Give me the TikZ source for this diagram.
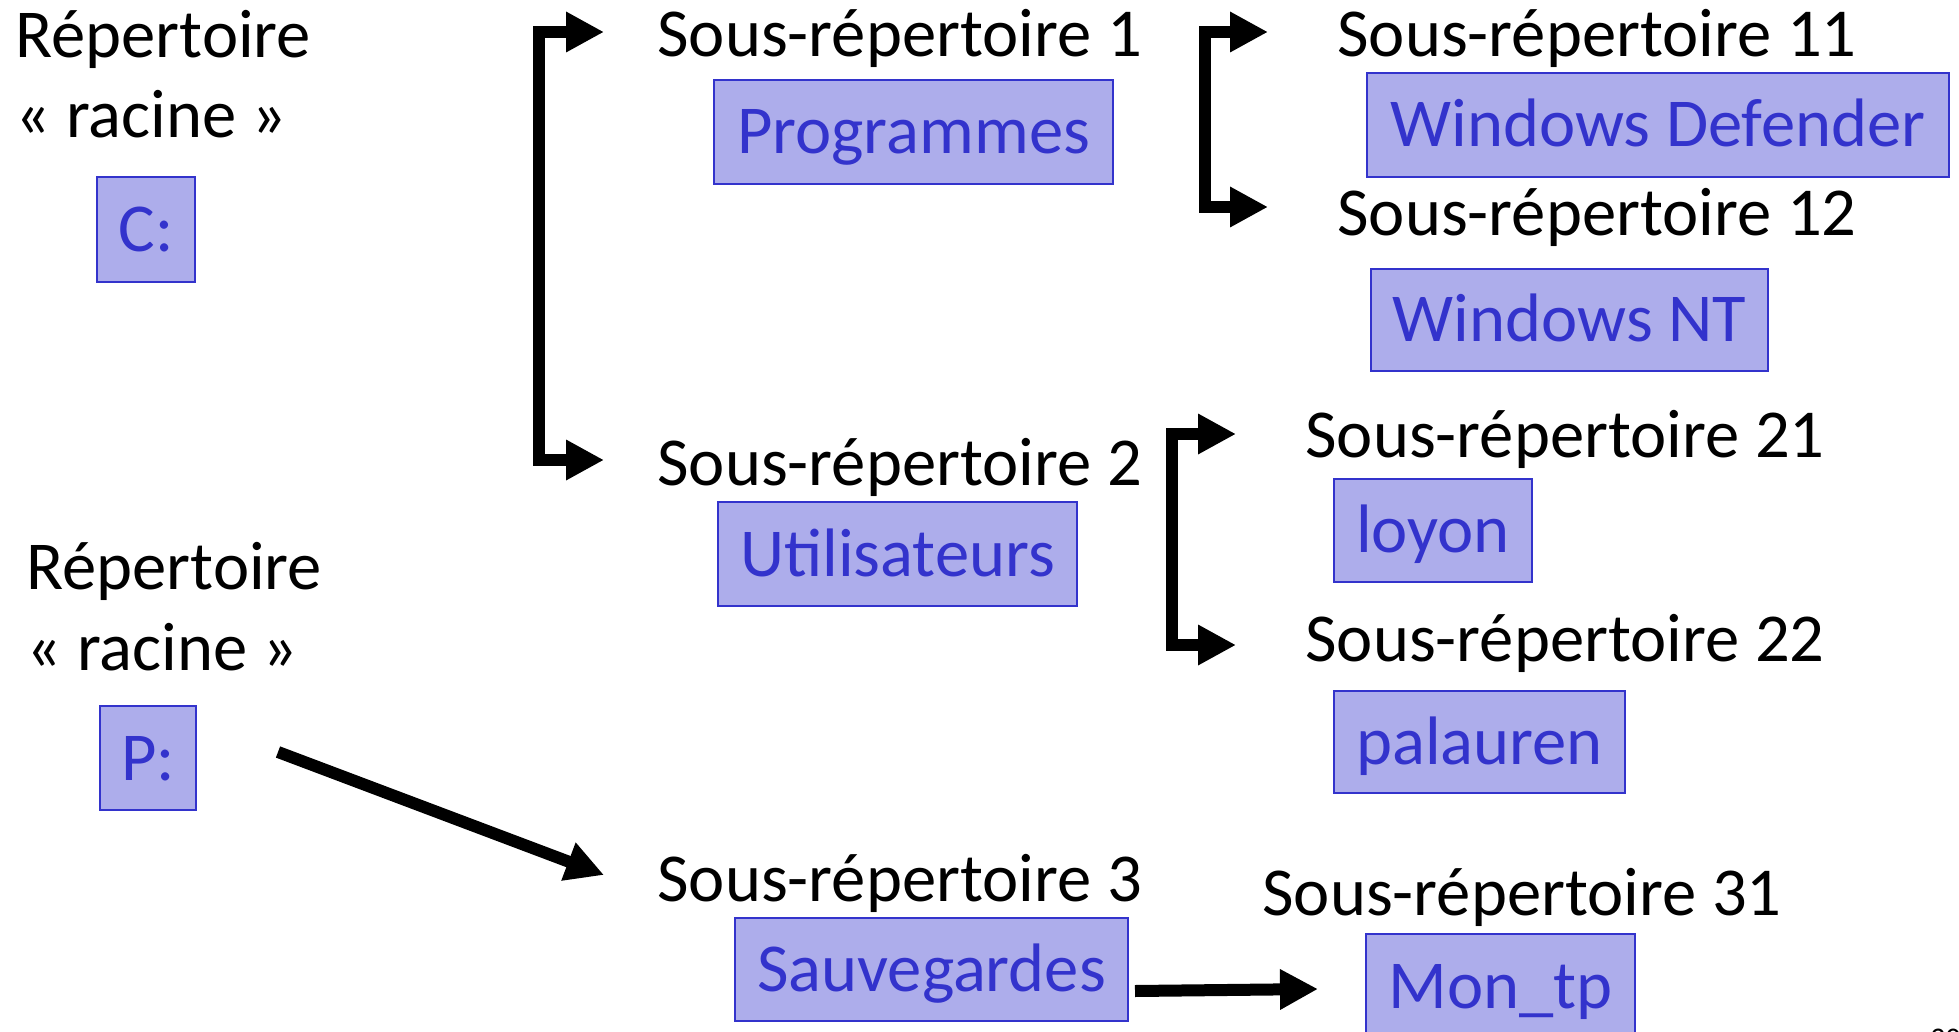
\documentclass[tikz,border=0pt]{standalone}
\usepackage{fontspec}
\setmainfont{Carlito}
\usetikzlibrary{arrows.meta}
\definecolor{boxfill}{RGB}{173,173,235}
\definecolor{boxblue}{RGB}{51,51,204}
\begin{document}
\begin{tikzpicture}[x=0.5pt,y=-0.5pt,
  lbl/.style={anchor=base west, inner sep=0pt, font=\fontsize{34.3}{38}\selectfont},
  dirbox/.style={draw=boxblue, fill=boxfill, line width=1.2pt, text=boxblue, inner sep=0pt,
    text height=22pt, text depth=0pt, font=\fontsize{34.3}{38}\selectfont},
  thickarrow/.style={line width=6pt, line join=miter, -{Triangle[length=19pt,width=19pt]}},
  bracketarrow/.style={line width=6pt, line join=miter,
    {Triangle[length=19pt,width=19pt]}-{Triangle[length=19pt,width=19pt]}},
]
\useasboundingbox (0,0) rectangle (1959,1032);
\clip (0,0) rectangle (1959,1032);

% root labels
\node[lbl] (rep1) at (15,58) {Répertoire};
\node[lbl] (rac1) at (15,138) {« racine »};
\node[lbl] (rep2) at (26,589) {Répertoire};
\node[lbl] (rac2) at (26,670) {« racine »};

% sub-directory labels
\node[lbl] (sr1)  at (657,57)   {Sous-répertoire 1};
\node[lbl] (sr2)  at (657,485)  {Sous-répertoire 2};
\node[lbl] (sr3)  at (657,901)  {Sous-répertoire 3};
\node[lbl] (sr11) at (1337,57)  {Sous-répertoire 11};
\node[lbl] (sr12) at (1337,235) {Sous-répertoire 12};
\node[lbl] (sr21) at (1305,457) {Sous-répertoire 21};
\node[lbl] (sr22) at (1305,661) {Sous-répertoire 22};
\node[lbl] (sr31) at (1262,915) {Sous-répertoire 31};

% boxes
\node[dirbox, minimum width=49pt,    minimum height=52.5pt] (c)    at (146,229.5)  {C:};
\node[dirbox, minimum width=48pt,    minimum height=52pt]   (p)    at (148,758)    {P:};
\node[dirbox, minimum width=199.5pt, minimum height=52pt]   (prog) at (913.5,132)  {Programmes};
\node[dirbox, minimum width=179.5pt, minimum height=52pt]   (util) at (897.5,554)  {Utilisateurs};
\node[dirbox, minimum width=196.5pt, minimum height=51.5pt] (sauv) at (931.5,969.5){Sauvegardes};
\node[dirbox, minimum width=291pt,   minimum height=52pt]   (wdef) at (1658,125)   {Windows Defender};
\node[dirbox, minimum width=198.5pt, minimum height=51pt]   (wnt)  at (1569.5,320) {Windows NT};
\node[dirbox, minimum width=99pt,    minimum height=51.5pt] (loy)  at (1433,530.5) {loyon};
\node[dirbox, minimum width=145.5pt, minimum height=51pt]   (pal)  at (1479.5,742) {palauren};
\node[dirbox, minimum width=134.5pt, minimum height=52pt]   (mtp)  at (1500.5,986) {Mon\_tp};

% connector end points
\coordinate (b1a) at (604,32);
\coordinate (b1b) at (604,460);
\coordinate (b2a) at (1268,32);
\coordinate (b2b) at (1268,207);
\coordinate (b3a) at (1236,434);
\coordinate (b3b) at (1236,645);
\coordinate (d1)  at (278,752);
\coordinate (d2)  at (604,875);
\coordinate (h1)  at (1135,991);
\coordinate (h2)  at (1318,989);

% connectors
\draw[bracketarrow] (b1a) -- (539,32) -- (539,460) -- (b1b);
\draw[bracketarrow] (b2a) -- (1205,32) -- (1205,207) -- (b2b);
\draw[bracketarrow] (b3a) -- (1172,434) -- (1172,645) -- (b3b);
\draw[thickarrow] (d1) -- (d2);
\draw[thickarrow] (h1) -- (h2);

% page number (cut off)
\node[anchor=base west, inner sep=0pt, font=\fontsize{15}{17}\selectfont] (pg) at (1930,1048) {20};
\end{tikzpicture}
\end{document}
